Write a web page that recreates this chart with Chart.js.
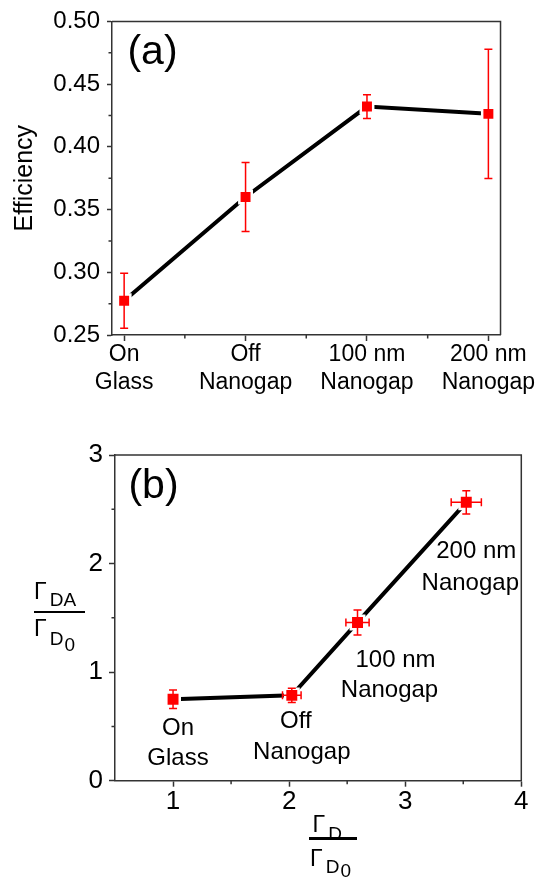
<!DOCTYPE html>
<html>
<head>
<meta charset="utf-8">
<title>Efficiency and decay rate ratios</title>
<script src="https://cdn.jsdelivr.net/npm/chart.js"></script>
<style>
  html, body { margin: 0; padding: 0; background: #fff; }
  body { position: relative; width: 536px; height: 882px; overflow: hidden; font-family: "Liberation Sans", Arial, sans-serif; }
  canvas { position: absolute; left: 0; }
  #chartA { top: 0; }
  #chartB { top: 420px; }
  .lbl { position: absolute; font-size: 23px; line-height: 1; white-space: nowrap; color: #000; }
  .sub { position: relative; font-size: 19px; margin-left: 3px; }
  .bar { position: absolute; background: #000; }
</style>
</head>
<body>
<canvas id="chartA" width="536" height="420"></canvas>
<canvas id="chartB" width="536" height="462"></canvas>

<!-- y axis label of (b) -->
<div class="lbl" style="left:34px;top:579.5px">Γ<span class="sub" style="top:7.7px">DA</span></div>
<div class="bar" style="left:34px;top:610.7px;width:51px;height:2.6px"></div>
<div class="lbl" style="left:34px;top:617.2px">Γ<span class="sub" style="top:9.3px">D<span class="sub" style="top:5.7px;margin-left:1px">0</span></span></div>

<!-- x axis label of (b) -->
<div class="lbl" style="left:312.5px;top:813.2px">Γ<span class="sub" style="top:7.5px">D</span></div>
<div class="bar" style="left:309px;top:837px;width:48px;height:2.8px"></div>
<div class="lbl" style="left:310px;top:846.5px">Γ<span class="sub" style="top:7.3px">D<span class="sub" style="top:4.5px;margin-left:1px">0</span></span></div>

<script>
// (a) efficiency per sample
const categoriesA = [['On', 'Glass'], ['Off', 'Nanogap'], ['100 nm', 'Nanogap'], ['200 nm', 'Nanogap']];
const positionsA = [0, 1, 2, 3];
const efficiency = [0.2773, 0.360, 0.4321, 0.4263];
const efficiencyErr = [0.022, 0.0275, 0.0095, 0.0515];
const yTicksA = [0.25, 0.30, 0.35, 0.40, 0.45, 0.50];
const yMinorA = [0.275, 0.325, 0.375, 0.425, 0.475];
const xMinorA = [0.5, 1.5, 2.5];

// (b) Gamma_DA/Gamma_D0 vs Gamma_D/Gamma_D0
const notesB = [['On', 'Glass'], ['Off', 'Nanogap'], ['100 nm', 'Nanogap'], ['200 nm', 'Nanogap']];
const donorRatio = [1.0, 2.023, 2.589, 3.526];
const donorRatioErr = [0.03, 0.08, 0.10, 0.13];
const fretRatio = [0.75, 0.786, 1.458, 2.564];
const fretRatioErr = [0.086, 0.065, 0.115, 0.107];
const xTicksB = [1, 2, 3, 4];
const yTicksB = [0, 1, 2, 3];
const xMinorB = [1.5, 2.5, 3.5];
const yMinorB = [0.5, 1.5, 2.5];

const FONT = '"Liberation Sans", Arial, sans-serif';
const frameColor = '#333';
const red = '#ff0000';

// pixel offsets of the note lines in (b), relative to each point
const noteOffsets = [
  [[5, 29], [5, 59]],
  [[4, 26], [10, 57]],
  [[38, 38], [32, 68]],
  [[10, 49], [4, 81]]
];

function drawFrame(chart, minorX, minorY) {
  const { ctx, chartArea: a, scales: { x, y } } = chart;
  ctx.save();
  ctx.strokeStyle = frameColor;
  ctx.lineWidth = 1.5;
  ctx.beginPath();
  minorX.forEach(v => {
    const px = x.getPixelForValue(v);
    ctx.moveTo(px, a.bottom);
    ctx.lineTo(px, a.bottom + 3.5);
  });
  minorY.forEach(v => {
    const py = y.getPixelForValue(v);
    ctx.moveTo(a.left, py);
    ctx.lineTo(a.left - 3.5, py);
  });
  // top and right side of the box
  ctx.moveTo(a.left, a.top);
  ctx.lineTo(a.right, a.top);
  ctx.lineTo(a.right, a.bottom);
  ctx.stroke();
  ctx.restore();
}

function drawErrors(chart, xs, ys, xErr, yErr) {
  const { ctx, scales: { x, y } } = chart;
  const cap = 4;
  ctx.save();
  ctx.strokeStyle = red;
  ctx.lineWidth = 1.5;
  ctx.beginPath();
  xs.forEach((xv, i) => {
    const px = x.getPixelForValue(xv);
    const py = y.getPixelForValue(ys[i]);
    if (yErr) {
      const t = y.getPixelForValue(ys[i] + yErr[i]);
      const b = y.getPixelForValue(ys[i] - yErr[i]);
      ctx.moveTo(px, t); ctx.lineTo(px, b);
      ctx.moveTo(px - cap, t); ctx.lineTo(px + cap, t);
      ctx.moveTo(px - cap, b); ctx.lineTo(px + cap, b);
    }
    if (xErr) {
      const l = x.getPixelForValue(xv - xErr[i]);
      const r = x.getPixelForValue(xv + xErr[i]);
      ctx.moveTo(l, py); ctx.lineTo(r, py);
      ctx.moveTo(l, py - cap); ctx.lineTo(l, py + cap);
      ctx.moveTo(r, py - cap); ctx.lineTo(r, py + cap);
    }
  });
  ctx.stroke();
  ctx.restore();
}

function drawPanelLabel(chart, text, dx, dy) {
  const { ctx, chartArea: a } = chart;
  ctx.save();
  ctx.font = '41px ' + FONT;
  ctx.fillStyle = '#000';
  ctx.textAlign = 'center';
  ctx.textBaseline = 'alphabetic';
  ctx.fillText(text, a.left + dx, a.top + dy);
  ctx.restore();
}

function axis(opts) {
  return {
    type: 'linear',
    min: opts.min,
    max: opts.max,
    afterBuildTicks: s => { s.ticks = opts.ticks.map(v => ({ value: v })); },
    afterFit: opts.fit,
    grid: { drawOnChartArea: false, tickLength: opts.tickLength, tickColor: frameColor, tickWidth: 1.5 },
    border: { color: frameColor, width: 1.5 },
    ticks: {
      callback: opts.label,
      font: { family: FONT, size: opts.size, lineHeight: opts.lineHeight || 1.2 },
      color: '#000',
      padding: opts.padding,
      maxRotation: 0,
      autoSkip: false
    },
    title: opts.title || { display: false }
  };
}

// red squares with a thin white rim, so the line stops short of them
function series(points, radius) {
  return {
    data: points,
    showLine: true,
    borderColor: '#000',
    borderWidth: 4,
    pointStyle: 'rect',
    pointRadius: radius,
    pointBackgroundColor: red,
    pointBorderColor: '#fff',
    pointBorderWidth: 2.5
  };
}

const baseOptions = {
  responsive: false,
  animation: false,
  devicePixelRatio: 1,
  plugins: { legend: { display: false }, tooltip: { enabled: false } }
};

const decorA = {
  id: 'decorA',
  afterDatasetsDraw(chart) {
    drawFrame(chart, xMinorA, yMinorA);
    drawErrors(chart, positionsA, efficiency, null, efficiencyErr);
    drawPanelLabel(chart, '(a)', 40.5, 42.4);
  }
};

new Chart(document.getElementById('chartA'), {
  type: 'scatter',
  data: {
    datasets: [series(positionsA.map((x, i) => ({ x: x, y: efficiency[i] })), 8.8)]
  },
  options: Object.assign({}, baseOptions, {
    layout: { autoPadding: false, padding: { left: 0, top: 21, right: 30, bottom: 0 } },
    scales: {
      x: axis({
        min: -0.1, max: 3.1, ticks: positionsA, tickLength: 6, padding: 0,
        size: 23, lineHeight: 1.22,
        label: v => categoriesA[v],
        fit: s => { s.height = 85; }
      }),
      y: axis({
        min: 0.25, max: 0.5, ticks: yTicksA, tickLength: 5, padding: 7,
        size: 24,
        label: v => v.toFixed(2),
        fit: s => { s.width = 112; },
        title: { display: true, text: 'Efficiency', color: '#000', font: { family: FONT, size: 25 }, padding: { top: 10, bottom: 0 } }
      })
    }
  }),
  plugins: [decorA]
});

const decorB = {
  id: 'decorB',
  afterDatasetsDraw(chart) {
    const { ctx, scales: { x, y } } = chart;
    drawFrame(chart, xMinorB, yMinorB);
    drawErrors(chart, donorRatio, fretRatio, donorRatioErr, fretRatioErr);
    drawPanelLabel(chart, '(b)', 38.5, 43.4);
    ctx.save();
    ctx.font = '24px ' + FONT;
    ctx.fillStyle = '#000';
    ctx.textAlign = 'center';
    ctx.textBaseline = 'middle';
    notesB.forEach((lines, i) => {
      const px = x.getPixelForValue(donorRatio[i]);
      const py = y.getPixelForValue(fretRatio[i]);
      lines.forEach((t, j) => {
        ctx.fillText(t, px + noteOffsets[i][j][0], py + noteOffsets[i][j][1]);
      });
    });
    ctx.restore();
  }
};

new Chart(document.getElementById('chartB'), {
  type: 'scatter',
  data: {
    datasets: [series(donorRatio.map((x, i) => ({ x: x, y: fretRatio[i] })), 9.5)]
  },
  options: Object.assign({}, baseOptions, {
    layout: { autoPadding: false, padding: { left: 0, top: 35, right: 14.7, bottom: 0 } },
    scales: {
      x: axis({
        min: 0.5, max: 4, ticks: xTicksB, tickLength: 6, padding: 0,
        size: 26,
        label: v => String(v),
        fit: s => { s.height = 101.3; }
      }),
      y: axis({
        min: 0, max: 3, ticks: yTicksB, tickLength: 6, padding: 6,
        size: 26,
        label: v => String(v),
        fit: s => { s.width = 115; }
      })
    }
  }),
  plugins: [decorB]
});
</script>
</body>
</html>
